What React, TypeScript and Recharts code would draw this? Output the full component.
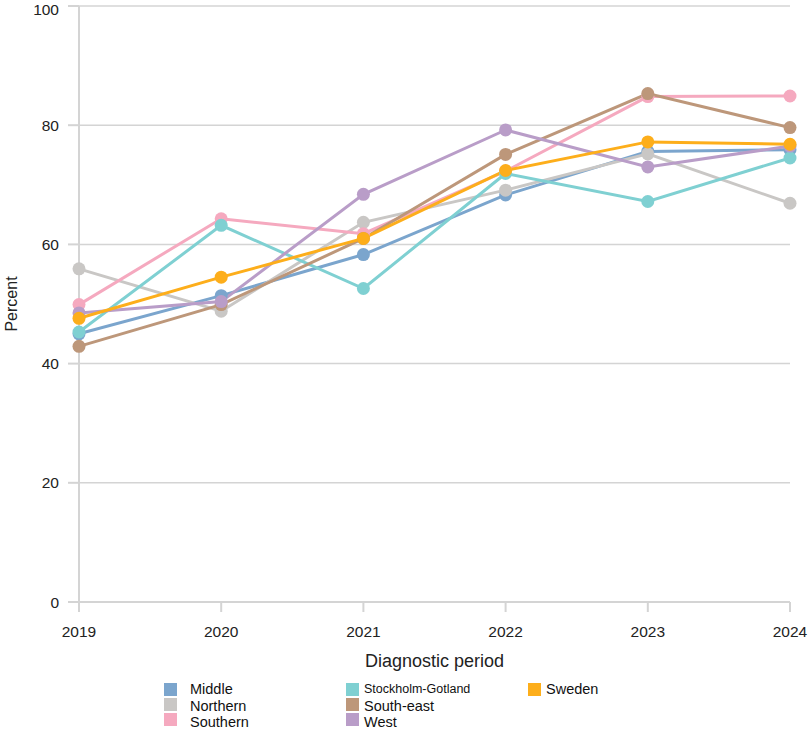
import { CartesianGrid, Line, LineChart, XAxis, YAxis } from "recharts";

const YEARS = ["2019", "2020", "2021", "2022", "2023", "2024"];

const MIDDLE = [45.0, 51.4, 58.3, 68.3, 75.6, 75.9];
const NORTHERN = [55.9, 48.8, 63.7, 69.1, 75.2, 66.9];
const SOUTHERN = [49.9, 64.3, 61.8, 72.3, 84.8, 84.9];
const STOCKHOLM = [45.3, 63.2, 52.6, 71.9, 67.2, 74.5];
const SOUTH_EAST = [42.9, 49.9, 61.0, 75.1, 85.3, 79.6];
const WEST = [48.5, 50.4, 68.4, 79.2, 73.0, 76.5];
const SWEDEN = [47.6, 54.5, 61.0, 72.4, 77.2, 76.8];

const Y_TICKS = [0, 20, 40, 60, 80, 100];

interface SeriesDef {
  key: string;
  name: string;
  color: string;
  values: number[];
}

const SERIES: SeriesDef[] = [
  { key: "middle", name: "Middle", color: "#7ba5cd", values: MIDDLE },
  { key: "northern", name: "Northern", color: "#c9c7c5", values: NORTHERN },
  { key: "southern", name: "Southern", color: "#f5a9bf", values: SOUTHERN },
  { key: "stockholm", name: "Stockholm-Gotland", color: "#7fd0d2", values: STOCKHOLM },
  { key: "southEast", name: "South-east", color: "#bd977a", values: SOUTH_EAST },
  { key: "west", name: "West", color: "#b99dc8", values: WEST },
  { key: "sweden", name: "Sweden", color: "#fdae1b", values: SWEDEN },
];

// legend is laid out in 3 columns like the original
const LEGEND_COLUMNS = [
  ["middle", "northern", "southern"],
  ["stockholm", "southEast", "west"],
  ["sweden"],
];

const FONT = "'Liberation Sans', Arial, Helvetica, sans-serif";
const AXIS_GRAY = "#d4d4d4";

const chartData = YEARS.map((year, i) => {
  const row: Record<string, string | number> = { year };
  SERIES.forEach((s) => {
    row[s.key] = s.values[i];
  });
  return row;
});

function Legend() {
  const colLeft = [164, 346, 528];
  return (
    <div style={{ position: "absolute", left: 0, top: 682, width: 810, fontFamily: FONT, color: "#111" }}>
      {LEGEND_COLUMNS.map((col, ci) => (
        <div key={ci} style={{ position: "absolute", left: colLeft[ci], top: 0 }}>
          {col.map((key, ri) => {
            const s = SERIES.find((x) => x.key === key)!;
            const long = s.name.length > 12;
            return (
              <div key={key} style={{ position: "absolute", top: ri * 15, left: 0, width: 200, height: 15 }}>
                <div
                  style={{
                    position: "absolute",
                    left: 0,
                    top: 1,
                    width: 13,
                    height: 13,
                    background: s.color,
                  }}
                />
                <div
                  style={{
                    position: "absolute",
                    left: ci === 0 ? 26 : 18,
                    top: ri * 1.5 - 2,
                    fontSize: long ? 12.5 : 14.5,
                    lineHeight: "18px",
                    whiteSpace: "nowrap",
                  }}
                >
                  {s.name}
                </div>
              </div>
            );
          })}
        </div>
      ))}
    </div>
  );
}

export default function App() {
  return (
    <div style={{ position: "absolute", left: 0, top: 0, width: 810, height: 731, background: "#fff" }}>
      <LineChart
        width={810}
        height={731}
        data={chartData}
        margin={{ top: 6, right: 20, bottom: 0, left: 0 }}
      >
        <CartesianGrid vertical={false} stroke={AXIS_GRAY} strokeWidth={1.5} />
        <XAxis
          dataKey="year"
          stroke={AXIS_GRAY}
          strokeWidth={2}
          tickSize={10}
          tickMargin={14}
          tick={{ fill: "#222", fontSize: 15.5, fontFamily: FONT }}
          interval={0}
          label={{
            value: "Diagnostic period",
            position: "insideBottom",
            offset: 64,
            style: { fill: "#222", fontSize: 18, fontFamily: FONT },
          }}
          height={129}
        />
        <YAxis
          domain={[0, 100]}
          ticks={Y_TICKS}
          width={79}
          stroke={AXIS_GRAY}
          strokeWidth={2}
          tickSize={11}
          tickMargin={9}
          tick={{ fill: "#222", fontSize: 15.5, fontFamily: FONT }}
          label={({ viewBox }: any) => {
            const cx = (viewBox?.x ?? 0) + 11;
            const cy = (viewBox?.y ?? 0) + (viewBox?.height ?? 0) / 2;
            return (
              <text
                x={cx}
                y={cy}
                transform={`rotate(-90, ${cx}, ${cy})`}
                textAnchor="middle"
                dominantBaseline="central"
                fill="#222"
                fontSize={16}
                fontFamily={FONT}
              >
                Percent
              </text>
            );
          }}
        />
        {SERIES.map((s) => (
          <Line
            key={s.key}
            dataKey={s.key}
            name={s.name}
            type="linear"
            stroke={s.color}
            strokeWidth={3}
            dot={{ r: 6.5, fill: s.color, stroke: "none" }}
            activeDot={false}
            isAnimationActive={false}
          />
        ))}
      </LineChart>
      <Legend />
    </div>
  );
}
